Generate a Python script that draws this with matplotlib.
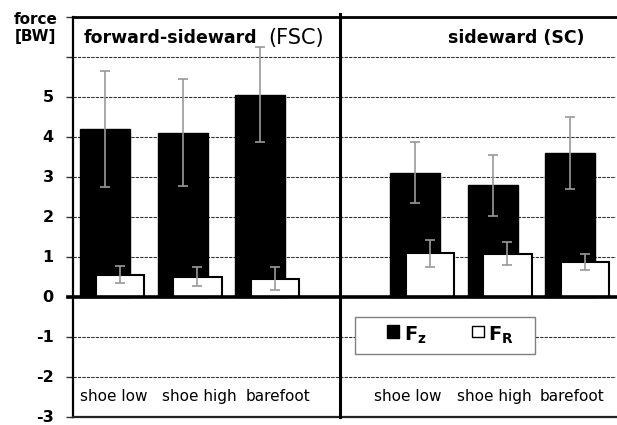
import numpy as np
import matplotlib
matplotlib.use("Agg")
import matplotlib.pyplot as plt
from matplotlib.lines import Line2D
from matplotlib.patches import Rectangle
from matplotlib.path import Path

plt.rcParams['font.family'] = ['DejaVu Sans']
plt.rcParams['mathtext.fontset'] = 'dejavusans'

# shoe conditions
conditions = ["shoe low", "shoe high", "barefoot"]

# forward-sideward cut (FSC)
fsc_fz = [4.2, 4.1, 5.05]
fsc_fz_sd = [1.45, 1.34, 1.18]
fsc_fr = [0.55, 0.50, 0.45]
fsc_fr_sd = [0.22, 0.23, 0.28]

# sideward cut (SC)
sc_fz = [3.1, 2.78, 3.6]
sc_fz_sd = [0.77, 0.76, 0.90]
sc_fr = [1.08, 1.07, 0.86]
sc_fr_sd = [0.33, 0.29, 0.20]

yticks = list(range(-3, 8))
ylabels = [str(t) if t <= 5 else "" for t in yticks]

fig = plt.figure(figsize=(6.17, 4.25), dpi=100)
ax = fig.add_axes([73 / 617, 8.5 / 425, 542.5 / 617, 400 / 425])

# 7 slots: 3 for FSC, one empty, 3 for SC
x = np.array([0, 1, 2, 4, 5, 6])
fz = fsc_fz + sc_fz
fz_sd = fsc_fz_sd + sc_fz_sd
fr = fsc_fr + sc_fr
fr_sd = fsc_fr_sd + sc_fr_sd

err_kw = dict(ecolor="#9a9a9a", elinewidth=1.2, capsize=3.3, capthick=1.2)
ax.bar(x - 0.087, fz, width=0.645, color="black", edgecolor="black",
       yerr=fz_sd, error_kw=err_kw, zorder=2)
ax.bar(x + 0.106, fr, width=0.627, color="white", edgecolor="black", linewidth=1.5,
       yerr=fr_sd, error_kw=err_kw, zorder=3)

ax.set_xlim(-0.5, 6.5)
ax.set_ylim(-3, 7)
ax.set_xticks([])
ax.set_yticks(yticks)
ax.set_yticklabels(ylabels, fontsize=11.5, fontweight="bold")
ax.tick_params(axis="y", direction="out", length=5, width=1, color="#333333", pad=9)
ax.yaxis.grid(True, linestyle=(0, (3, 1)), color="#333333", linewidth=0.8)
ax.set_axisbelow(True)

ax.spines["right"].set_visible(False)
ax.spines["left"].set_linewidth(1.6)
ax.spines["top"].set_linewidth(2)
ax.spines["bottom"].set_linewidth(1.6)
ax.spines["bottom"].set_color("#222222")

ax.axhline(0, xmin=-0.01, xmax=1, color="black", linewidth=2.6, clip_on=False, zorder=4)
ax.axvline(2.945, ymin=0, ymax=1.006, color="black", linewidth=2.2, clip_on=False, zorder=4)

# panel titles
ax.text(0.0203, 0.946, "forward-sideward", transform=ax.transAxes, fontsize=12.5,
        fontweight="bold", ha="left", va="center")
ax.text(0.359, 0.946, "(FSC)", transform=ax.transAxes, fontsize=15,
        ha="left", va="center")
ax.text(0.8166, 0.946, "sideward (SC)", transform=ax.transAxes, fontsize=12.5,
        fontweight="bold", ha="center", va="center")

# condition labels inside the plot
lab_off = [0.02, 0.13, 0.15, -0.18, -0.07, -0.055]
trans = ax.get_xaxis_transform()
for xi, off, name in zip(x, lab_off, conditions * 2):
    ax.text(xi + off, 0.049, name, transform=trans, fontsize=11, ha="center", va="center")

fig.text(35.5 / 617, 1 - 28 / 425, "force\n[BW]", fontsize=11, fontweight="bold",
         ha="center", va="center", linespacing=1.2)

# legend: separate box, squares raised a bit relative to the text
box = Rectangle(((355 - 73) / 542.5, (416.5 - 354.3) / 400), 180 / 542.5, 37.6 / 400,
                transform=ax.transAxes, facecolor="white", edgecolor="#808080",
                linewidth=1, zorder=5)
ax.add_patch(box)
sq = Path([(-1, -0.6), (1, -0.6), (1, 1.4), (-1, 1.4), (-1, -0.6)], closed=True)
handles = [
    Line2D([], [], marker=sq, ls="", markerfacecolor="black", markeredgecolor="black",
           markersize=13),
    Line2D([], [], marker=sq, ls="", markerfacecolor="white", markeredgecolor="black",
           markersize=11.5, markeredgewidth=1),
]
leg = ax.legend(handles, [r"$\mathbf{F_z}$", r"$\mathbf{F_R}$"], loc="center left",
                bbox_to_anchor=((386 - 73) / 542.5, 0.203), ncol=2, frameon=False,
                fontsize=14, handlelength=0.7, handletextpad=0.2, columnspacing=2.3,
                borderpad=0, borderaxespad=0)
leg.set_zorder(6)

fig.savefig("out.png", dpi=100)
